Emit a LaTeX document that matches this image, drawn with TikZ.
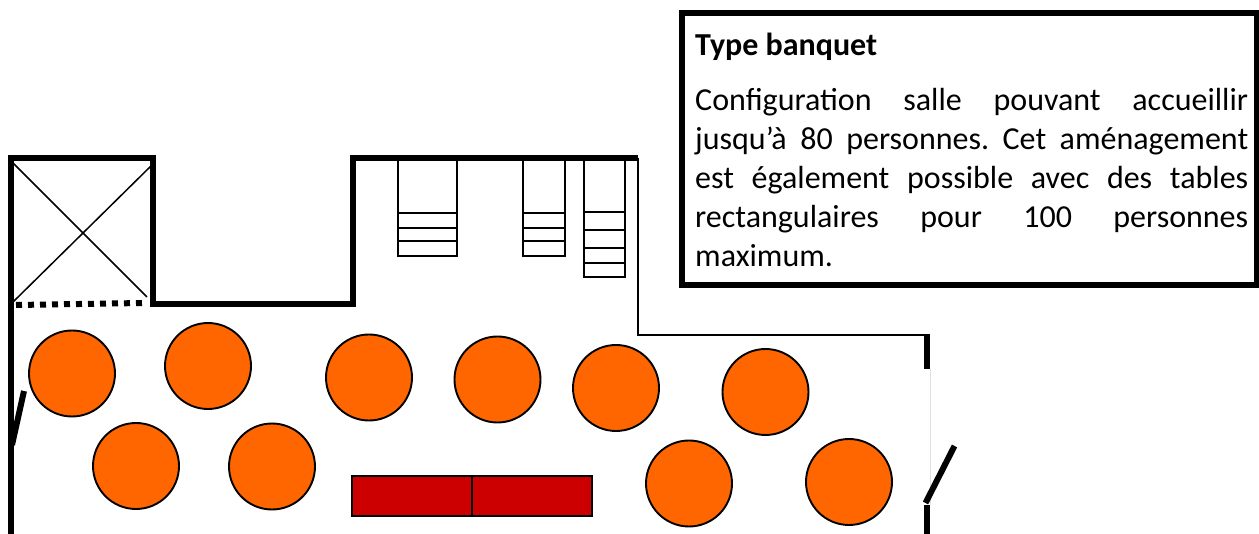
\documentclass[tikz,border=0pt]{standalone}
\usepackage{fontspec}
\setmainfont{Carlito}
\frenchspacing
\tikzset{
  x=1pt,y=-1pt,
  wall/.style={line width=6pt,line cap=rect,line join=miter},
  thinwall/.style={line width=2.8pt,line join=miter},
  doorleaf/.style={line width=6pt},
  thin line/.style={line width=2pt},
  cross line/.style={line width=1.5pt},
  shelf/.style={draw,line width=2pt,fill=white},
  roundtable/.style={circle,draw,line width=1.9pt,fill=tableorange,minimum size=86pt,inner sep=0pt},
  buffet/.style={rectangle,draw,line width=2pt,fill=buffetred,minimum width=120pt,minimum height=39pt,inner sep=0pt},
  infobox/.style={draw,line width=6pt},
  bodytext/.style={anchor=north west,inner sep=0pt,text width=553pt,align=justify,font=\fontsize{32}{39}\selectfont},
  titletext/.style={anchor=base west,inner sep=0pt,font=\fontsize{32}{39}\selectfont\bfseries}
}
\definecolor{tableorange}{HTML}{FF6600}
\definecolor{buffetred}{HTML}{CC0000}
\begin{document}
\begin{tikzpicture}
\useasboundingbox (0,0) rectangle (1259,534);
% walls
\draw[wall,line cap=butt] (11,534) -- (11,158) -- (153,158) -- (153,304) -- (353,304) -- (353,158) -- (638,158);
\draw[thinwall] (638,158) -- (638,335) -- (927,335);
\draw[line width=6pt] (927,334) -- (927,369);
\draw[line width=1pt,black!12] (930.5,369) -- (930.5,505);
\draw[line width=6pt] (927,505) -- (927,534);
% door leaves
\draw[doorleaf] (925.5,503) -- (954.5,446);
\draw[doorleaf] (12,445) -- (24,391);
% cross and dotted limit
\draw[cross line] (13,163) -- (147,297);
\draw[cross line] (13,302) -- (152,165);
\draw[line width=6pt,dash pattern=on 6pt off 6pt] (16,305) -- (143,303);
% shelves
\draw[shelf] (398,160) rectangle (457,256.5);
\draw[thin line] (398,213.5) -- (457,213.5) (398,228) -- (457,228) (398,241) -- (457,241);
\draw[shelf] (523,160) rectangle (565,256.5);
\draw[thin line] (523,213.5) -- (565,213.5) (523,228) -- (565,228) (523,241) -- (565,241);
\draw[shelf] (583.7,160) rectangle (625.3,277.3);
\draw[thin line] (583.7,212) -- (625.3,212) (583.7,230) -- (625.3,230) (583.7,247.7) -- (625.3,247.7) (583.7,263.3) -- (625.3,263.3);
% round tables
\node[roundtable] (t1) at (72,373.5) {};
\node[roundtable] (t2) at (208,366) {};
\node[roundtable] (t3) at (369,377.5) {};
\node[roundtable] (t4) at (497.5,379.5) {};
\node[roundtable] (t5) at (616,388) {};
\node[roundtable] (t6) at (765.5,392) {};
\node[roundtable] (t7) at (136,466) {};
\node[roundtable] (t8) at (272,466.5) {};
\node[roundtable] (t9) at (689,483.5) {};
\node[roundtable] (t10) at (849,482) {};
% buffet
\node[buffet] (b1) at (412.3,496) {};
\node[buffet] (b2) at (532.3,496) {};
% info box
\draw[infobox] (682,13) rectangle (1256.5,285);
\node[titletext] (title) at (695,56) {Type banquet};
\node[bodytext] (body) at (695,88) {Configuration salle pouvant accueillir\linebreak jusqu’à 80 personnes. Cet aménagement\linebreak est également possible avec des tables\linebreak rectangulaires pour 100 personnes\linebreak maximum.};
\end{tikzpicture}
\end{document}
